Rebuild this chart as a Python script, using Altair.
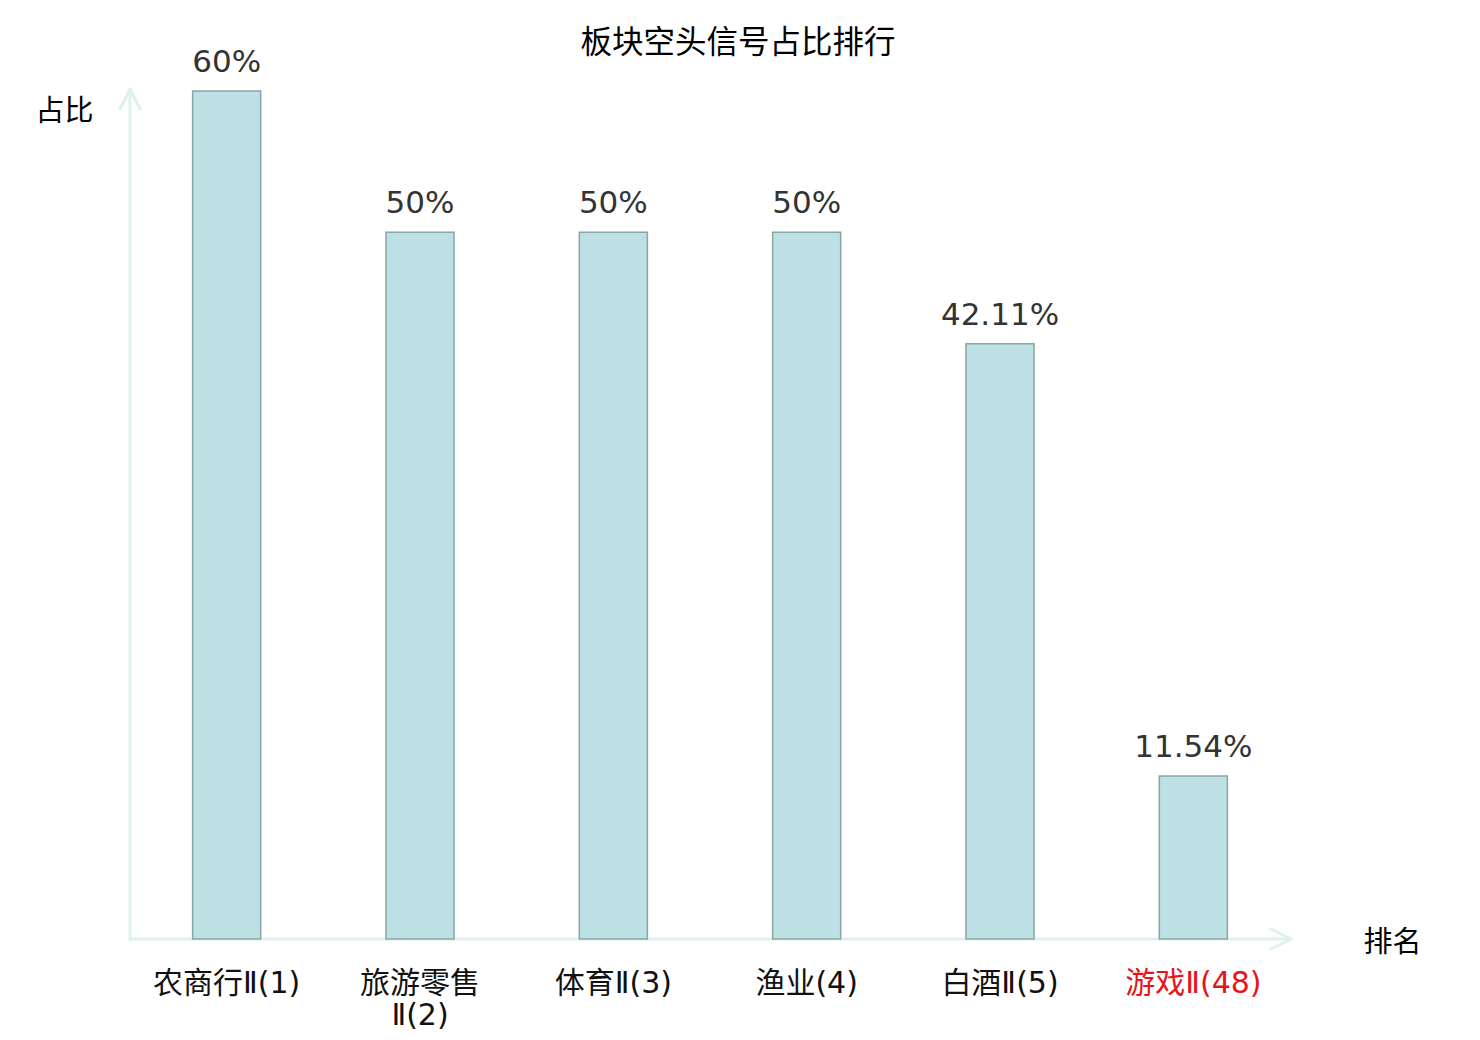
import altair as alt
import pandas as pd

categories = ["农商行Ⅱ(1)", "旅游零售|Ⅱ(2)", "体育Ⅱ(3)", "渔业(4)", "白酒Ⅱ(5)", "游戏Ⅱ(48)"]
values = [60, 50, 50, 50, 42.11, 11.54]
value_labels = ["60%", "50%", "50%", "50%", "42.11%", "11.54%"]
chart_title = "板块空头信号占比排行"

df = pd.DataFrame({"cat": categories, "val": values, "lab": value_labels})

AXIS_COLOR = "#ddf2ef"
CJK = "Noto Sans CJK SC"
LATIN = "DejaVu Sans"
LABEL_FONT = "DejaVu Sans, Noto Sans CJK SC"

xenc = alt.X(
    "cat:N",
    sort=None,
    scale=alt.Scale(paddingInner=0.648, paddingOuter=0.324),
    axis=alt.Axis(
        title="排名",
        titleFont=CJK,
        titleFontSize=29,
        titleFontWeight="normal",
        titleColor="black",
        titleX=1262,
        titleY=3,
        titleAlign="center",
        titleBaseline="middle",
        titleAngle=0,
        labelFont=LABEL_FONT,
        labelFontSize=30,
        labelColor=alt.expr("indexof(datum.value, '游戏') >= 0 ? '#e8141b' : '#111111'"),
        labelExpr="split(datum.label, '|')",
        labelAngle=0,
        labelPadding=29,
        labelLineHeight=32,
        labelOverlap=False,
        labelLimit=0,
        ticks=False,
        tickSize=0,
        domain=False,
        grid=False,
    ),
)

yenc = alt.Y(
    "val:Q",
    scale=alt.Scale(domain=[0, 60], nice=False, zero=True),
    axis=alt.Axis(
        title="占比",
        titleFont=CJK,
        titleFontSize=29,
        titleFontWeight="normal",
        titleColor="black",
        titleAngle=0,
        titleX=-66,
        titleY=20,
        titleAlign="center",
        titleBaseline="middle",
        labels=False,
        ticks=False,
        domain=False,
        grid=False,
    ),
)

bars = alt.Chart(df).mark_bar(
    fill="#bce0e3", stroke="#8aa6a7", strokeWidth=1.5
).encode(x=xenc, y=yenc)

texts = alt.Chart(df).mark_text(
    font=LATIN, fontSize=31, color="#333333", baseline="alphabetic", dy=-19
).encode(x=alt.X("cat:N", sort=None), y="val:Q", text="lab:N")

one = alt.Data(values=[{"t": chart_title}])

title_mark = alt.Chart(one).mark_text(
    font=CJK, fontSize=31.5, color="black", align="center", baseline="middle"
).encode(x=alt.value(608), y=alt.value(-47), text="t:N")

def seg(x1, y1, x2, y2):
    return alt.Chart(one).mark_rule(
        color=AXIS_COLOR, strokeWidth=3, strokeCap="round"
    ).encode(x=alt.value(x1), y=alt.value(y1), x2=alt.value(x2), y2=alt.value(y2))

W, H = 1160, 848
axes = [
    seg(0, H, W + 1, H),
    seg(W + 1, H, W - 19, H - 10),
    seg(W + 1, H, W - 19, H + 10),
    seg(0, H, 0, -2),
    seg(0, -2, -10, 18),
    seg(0, -2, 10, 18),
]

chart = alt.layer(*axes, bars, texts, title_mark).properties(
    width=W,
    height=H,
    autosize=alt.AutoSizeParams(type="none"),
    padding={"left": 122, "top": 83, "right": 169, "bottom": 93},
).configure_view(stroke=None).configure_axis(labelFontWeight="normal")

chart.save("out.html", embed_options={"renderer": "svg", "actions": False})
